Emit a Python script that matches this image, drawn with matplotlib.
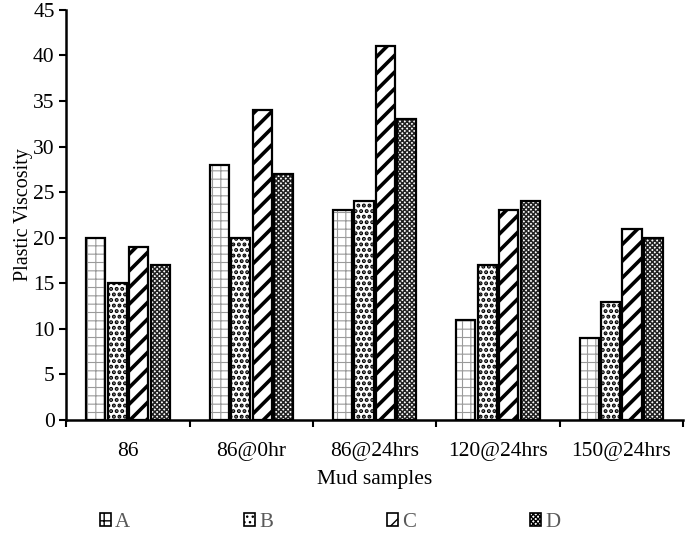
import matplotlib.pyplot as plt
import numpy as np

plt.rcParams['font.family'] = ['Liberation Serif', 'DejaVu Serif']
plt.rcParams['hatch.linewidth'] = 1.0

# data
samples = ['86', '86@0hr', '86@24hrs', '120@24hrs', '150@24hrs']
A = [20, 28, 23, 11, 9]
B = [15, 20, 24, 17, 13]
C = [19, 34, 41, 23, 21]
D = [17, 27, 33, 24, 20]

series = {'A': A, 'B': B, 'C': C, 'D': D}
hatches = {'A': '++', 'B': '...', 'C': '//', 'D': 'xxxxxxx'}
hatch_cols = {'A': '#9a9a9a', 'B': 'black', 'C': 'black', 'D': '#222222'}
hatch_lw = {'A': 0.8, 'B': 2.0, 'C': 2.6, 'D': 1.1}

fig = plt.figure(figsize=(6.85, 5.34), dpi=100)
ax = fig.add_axes([0.097, 0.2135, 0.900, 0.768])

x = np.arange(len(samples))
pitch = 0.174
width = 0.155
for i, (name, vals) in enumerate(series.items()):
    pos = x + (i - 1.5) * pitch
    bars = ax.bar(pos, vals, width, facecolor='white', edgecolor=hatch_cols[name],
                  hatch=hatches[name], linewidth=0, label=name, zorder=2)
    for b in bars:
        try:
            b.set_hatch_linewidth(hatch_lw[name])
        except AttributeError:
            pass
    # outline drawn separately so it stays black
    ax.bar(pos, vals, width, facecolor='none', edgecolor='black',
           linewidth=1.6, zorder=3)

ax.set_xlim(-0.5, len(samples) - 0.5)
ax.set_ylim(0, 45)
ax.set_yticks(range(0, 46, 5))
ax.set_xticks(np.arange(len(samples) + 1) - 0.5)
ax.set_xticklabels([])
ax.set_xticks(x, minor=True)
ax.set_xticklabels(samples, minor=True)
ax.tick_params(axis='x', which='minor', length=0, pad=16, labelsize=15.5)
ax.tick_params(axis='x', which='major', direction='out', length=5, width=1.5)
ax.tick_params(axis='y', direction='out', length=5, width=1.5, labelsize=15.5)

for s in ['top', 'right']:
    ax.spines[s].set_visible(False)
for s in ['left', 'bottom']:
    ax.spines[s].set_linewidth(1.8)

ax.set_ylabel('Plastic Viscosity', fontsize=14.5, labelpad=0)
ax.set_xlabel('Mud samples', fontsize=15.5, labelpad=6)

handles, labels = ax.get_legend_handles_labels()
leg = fig.legend(handles, labels, loc='center', bbox_to_anchor=(0.482, 0.022),
                 ncol=4, frameon=False, fontsize=15, columnspacing=5.45,
                 handlelength=0.55, handleheight=0.55, handletextpad=0.2)
for t in leg.get_texts():
    t.set_color('#595959')
for h in leg.legend_handles:
    h.set_edgecolor('black')
    h.set_linewidth(1.2)

fig.savefig('out.png', dpi=100)
